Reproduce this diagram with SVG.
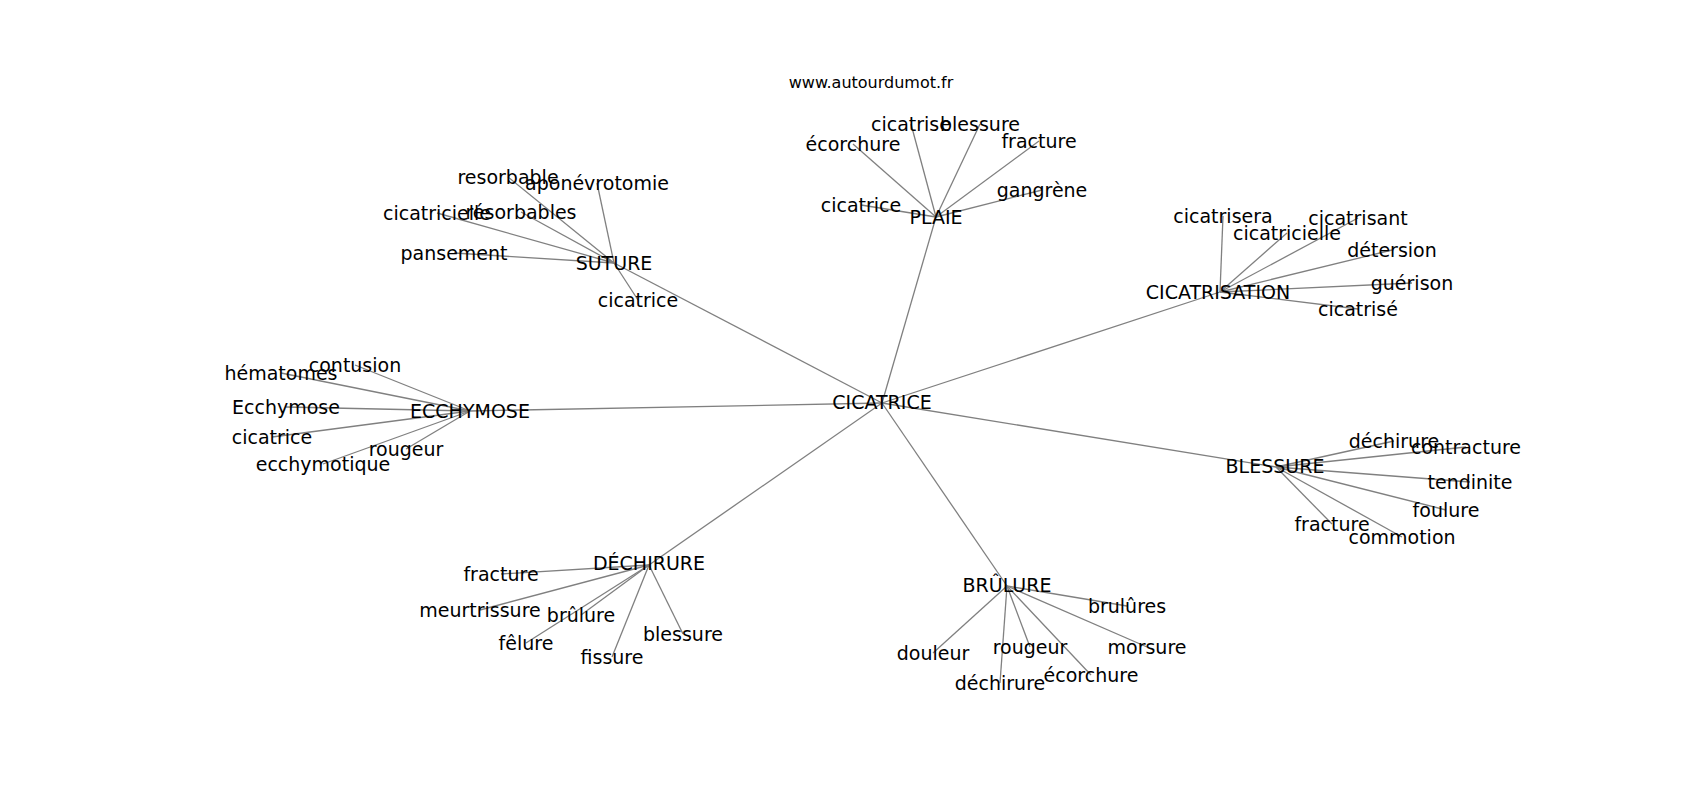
<svg xmlns="http://www.w3.org/2000/svg" width="1700" height="800" viewBox="0 0 1700 800">
<style>
text{font-family:"DejaVu Sans","Liberation Sans",sans-serif;font-size:19px;fill:#000;text-anchor:middle;dominant-baseline:central}
.title{font-size:16px}
#edges line{stroke:#808080;stroke-width:1.3}
</style>
<rect width="1700" height="800" fill="#fff"/>
<text class="title" x="871" y="82">www.autourdumot.fr</text>
<g id="edges">
<line x1="882" y1="403" x2="936" y2="217"/>
<line x1="882" y1="403" x2="614" y2="263"/>
<line x1="882" y1="403" x2="1220" y2="292"/>
<line x1="882" y1="403" x2="470" y2="411"/>
<line x1="882" y1="403" x2="1276" y2="467"/>
<line x1="882" y1="403" x2="649" y2="565"/>
<line x1="882" y1="403" x2="1007" y2="586"/>
<line x1="936" y1="217" x2="853" y2="144"/>
<line x1="936" y1="217" x2="911" y2="124"/>
<line x1="936" y1="217" x2="980" y2="124"/>
<line x1="936" y1="217" x2="1039" y2="141"/>
<line x1="936" y1="217" x2="1042" y2="190"/>
<line x1="936" y1="217" x2="861" y2="205"/>
<line x1="614" y1="263" x2="508" y2="177"/>
<line x1="614" y1="263" x2="597" y2="183"/>
<line x1="614" y1="263" x2="437" y2="213"/>
<line x1="614" y1="263" x2="521" y2="212"/>
<line x1="614" y1="263" x2="454" y2="253"/>
<line x1="614" y1="263" x2="638" y2="300"/>
<line x1="1220" y1="292" x2="1223" y2="216"/>
<line x1="1220" y1="292" x2="1287" y2="233"/>
<line x1="1220" y1="292" x2="1358" y2="218"/>
<line x1="1220" y1="292" x2="1392" y2="250"/>
<line x1="1220" y1="292" x2="1412" y2="283"/>
<line x1="1220" y1="292" x2="1358" y2="309"/>
<line x1="470" y1="411" x2="355" y2="365"/>
<line x1="470" y1="411" x2="281" y2="373"/>
<line x1="470" y1="411" x2="286" y2="407"/>
<line x1="470" y1="411" x2="272" y2="437"/>
<line x1="470" y1="411" x2="406" y2="449"/>
<line x1="470" y1="411" x2="323" y2="464"/>
<line x1="1276" y1="467" x2="1394" y2="441"/>
<line x1="1276" y1="467" x2="1466" y2="447"/>
<line x1="1276" y1="467" x2="1470" y2="482"/>
<line x1="1276" y1="467" x2="1446" y2="510"/>
<line x1="1276" y1="467" x2="1332" y2="524"/>
<line x1="1276" y1="467" x2="1402" y2="537"/>
<line x1="649" y1="565" x2="501" y2="574"/>
<line x1="649" y1="565" x2="480" y2="610"/>
<line x1="649" y1="565" x2="581" y2="615"/>
<line x1="649" y1="565" x2="526" y2="643"/>
<line x1="649" y1="565" x2="612" y2="657"/>
<line x1="649" y1="565" x2="683" y2="634"/>
<line x1="1007" y1="586" x2="1127" y2="606"/>
<line x1="1007" y1="586" x2="1147" y2="647"/>
<line x1="1007" y1="586" x2="933" y2="653"/>
<line x1="1007" y1="586" x2="1030" y2="647"/>
<line x1="1007" y1="586" x2="1000" y2="683"/>
<line x1="1007" y1="586" x2="1091" y2="675"/>
</g>
<g id="n-cicatrice"><text x="882" y="402">CICATRICE</text></g>
<g id="n-plaie"><text x="936" y="217">PLAIE</text></g>
<g id="n-plaie-ecorchure"><text x="853" y="144">écorchure</text></g>
<g id="n-plaie-cicatrise"><text x="911" y="124">cicatrise</text></g>
<g id="n-plaie-blessure"><text x="980" y="124">blessure</text></g>
<g id="n-plaie-fracture"><text x="1039" y="141">fracture</text></g>
<g id="n-plaie-gangrene"><text x="1042" y="190">gangrène</text></g>
<g id="n-plaie-cicatrice"><text x="861" y="205">cicatrice</text></g>
<g id="n-suture"><text x="614" y="263">SUTURE</text></g>
<g id="n-suture-resorbable"><text x="508" y="177">resorbable</text></g>
<g id="n-suture-aponevrotomie"><text x="597" y="183">aponévrotomie</text></g>
<g id="n-suture-cicatricielle"><text x="437" y="213">cicatricielle</text></g>
<g id="n-suture-resorbables"><text x="521" y="212">résorbables</text></g>
<g id="n-suture-pansement"><text x="454" y="253">pansement</text></g>
<g id="n-suture-cicatrice"><text x="638" y="300">cicatrice</text></g>
<g id="n-cicatrisation"><text x="1218" y="292">CICATRISATION</text></g>
<g id="n-cs-cicatrisera"><text x="1223" y="216">cicatrisera</text></g>
<g id="n-cs-cicatricielle"><text x="1287" y="233">cicatricielle</text></g>
<g id="n-cs-cicatrisant"><text x="1358" y="218">cicatrisant</text></g>
<g id="n-cs-detersion"><text x="1392" y="250">détersion</text></g>
<g id="n-cs-guerison"><text x="1412" y="283">guérison</text></g>
<g id="n-cs-cicatrise"><text x="1358" y="309">cicatrisé</text></g>
<g id="n-ecchymose"><text x="470" y="411">ECCHYMOSE</text></g>
<g id="n-ec-contusion"><text x="355" y="365">contusion</text></g>
<g id="n-ec-hematomes"><text x="281" y="373">hématomes</text></g>
<g id="n-ec-ecchymose"><text x="286" y="407">Ecchymose</text></g>
<g id="n-ec-cicatrice"><text x="272" y="437">cicatrice</text></g>
<g id="n-ec-rougeur"><text x="406" y="449">rougeur</text></g>
<g id="n-ec-ecchymotique"><text x="323" y="464">ecchymotique</text></g>
<g id="n-blessure"><text x="1275" y="466">BLESSURE</text></g>
<g id="n-bl-dechirure"><text x="1394" y="441">déchirure</text></g>
<g id="n-bl-contracture"><text x="1466" y="447">contracture</text></g>
<g id="n-bl-tendinite"><text x="1470" y="482">tendinite</text></g>
<g id="n-bl-foulure"><text x="1446" y="510">foulure</text></g>
<g id="n-bl-fracture"><text x="1332" y="524">fracture</text></g>
<g id="n-bl-commotion"><text x="1402" y="537">commotion</text></g>
<g id="n-dechirure"><text x="649" y="563">DÉCHIRURE</text></g>
<g id="n-de-fracture"><text x="501" y="574">fracture</text></g>
<g id="n-de-meurtrissure"><text x="480" y="610">meurtrissure</text></g>
<g id="n-de-brulure"><text x="581" y="615">brûlure</text></g>
<g id="n-de-felure"><text x="526" y="643">fêlure</text></g>
<g id="n-de-fissure"><text x="612" y="657">fissure</text></g>
<g id="n-de-blessure"><text x="683" y="634">blessure</text></g>
<g id="n-brulure"><text x="1007" y="585">BRÛLURE</text></g>
<g id="n-br-brulures"><text x="1127" y="606">brulûres</text></g>
<g id="n-br-morsure"><text x="1147" y="647">morsure</text></g>
<g id="n-br-douleur"><text x="933" y="653">douleur</text></g>
<g id="n-br-rougeur"><text x="1030" y="647">rougeur</text></g>
<g id="n-br-dechirure"><text x="1000" y="683">déchirure</text></g>
<g id="n-br-ecorchure"><text x="1091" y="675">écorchure</text></g>
</svg>
